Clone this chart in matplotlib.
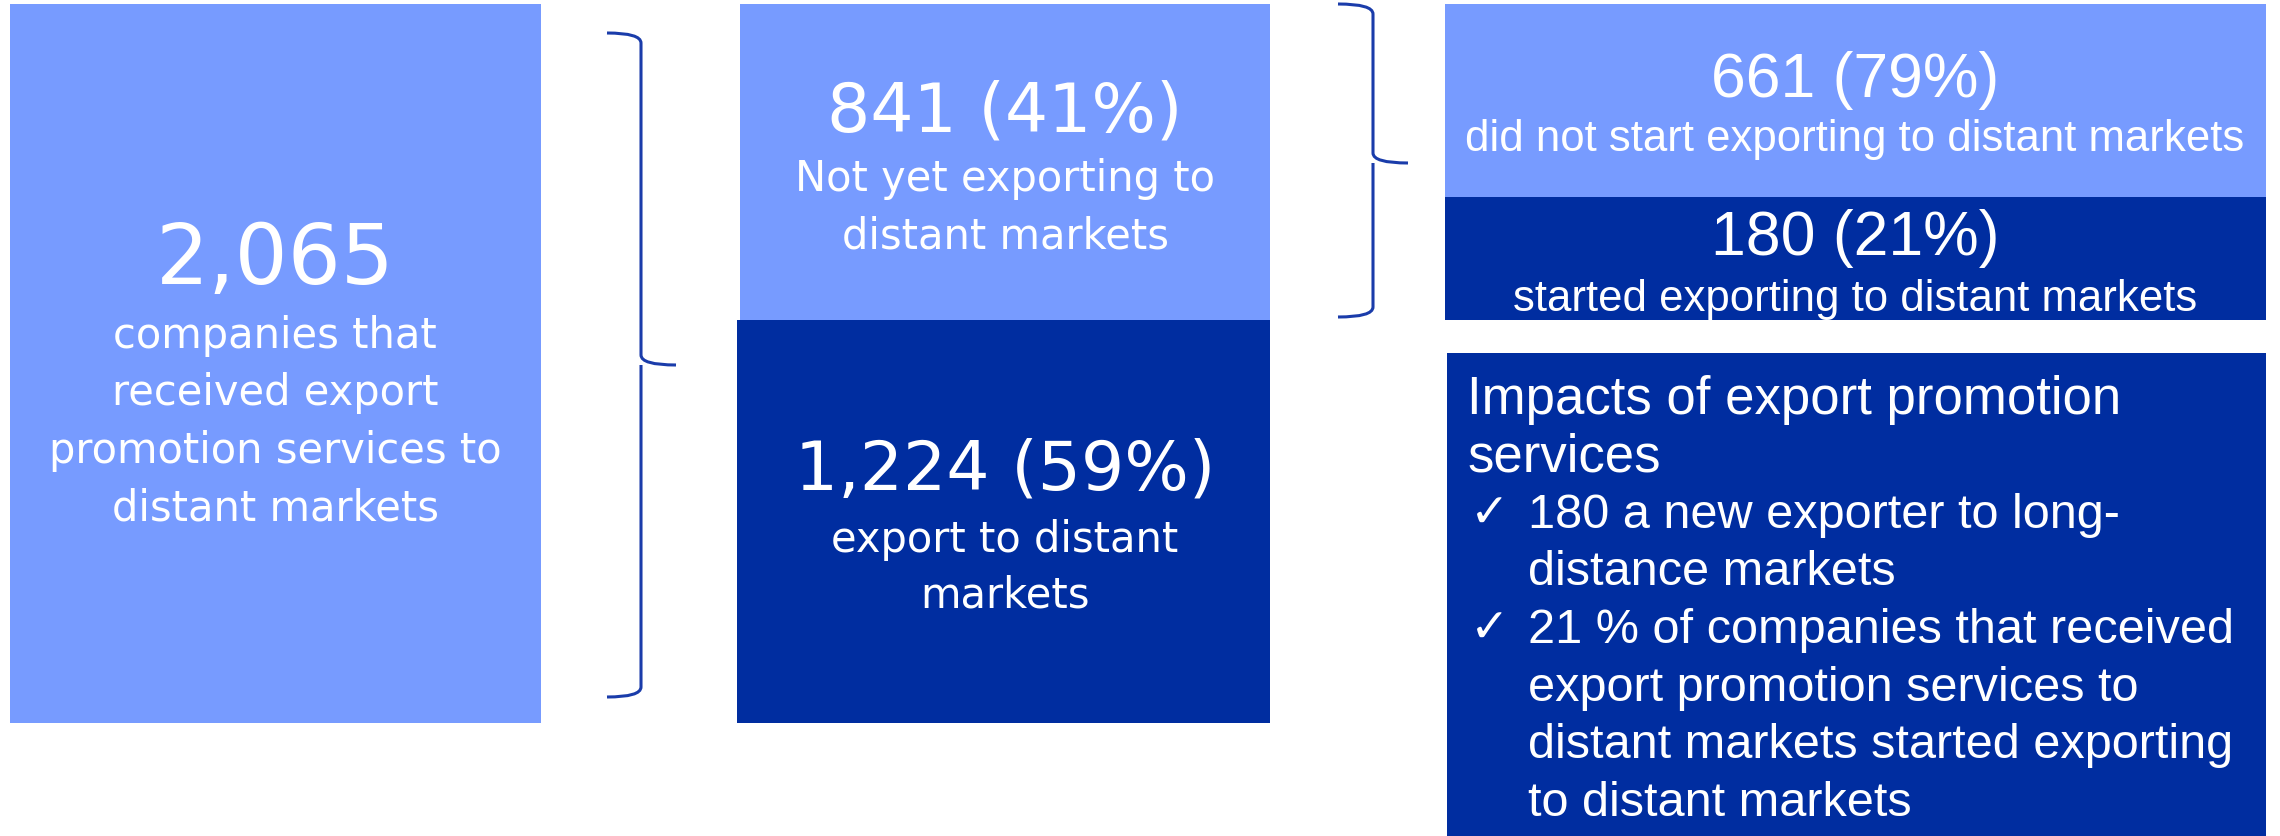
import matplotlib
matplotlib.use("Agg")
import matplotlib.pyplot as plt
from matplotlib.patches import Rectangle, PathPatch
from matplotlib.path import Path

# data
total = 2065
not_yet = 841
exporting = 1224
not_started = 661
started = 180

total_label = ["companies that", "received export", "promotion services to", "distant markets"]
not_yet_label = ["Not yet exporting to", "distant markets"]
exporting_label = ["export to distant", "markets"]
not_started_label = "did not start exporting to distant markets"
started_label = "started exporting to distant markets"
impact_title = ["Impacts of export promotion", "services"]
impact_items = [
    ["180 a new exporter to long-", "distance markets"],
    ["21 % of companies that received", "export promotion services to",
     "distant markets started exporting", "to distant markets"],
]

light = "#779BFF"
dark = "#002DA0"
brace_col = "#1A3CAA"
wide = ["DejaVu Sans"]
narrow = ["Liberation Sans", "DejaVu Sans"]


def pct(a, b):
    return "%d%%" % round(100.0 * a / b)


def brace(ax, x0, xv, xt, ytop, ytip, ybot):
    r = 10
    verts = [(x0, ytop), (xv, ytop), (xv, ytop + r),
             (xv, ytip - r), (xv, ytip), (xt, ytip),
             (xv, ytip), (xv, ytip + r),
             (xv, ybot - r), (xv, ybot), (x0, ybot)]
    codes = [Path.MOVETO, Path.CURVE3, Path.CURVE3,
             Path.LINETO, Path.CURVE3, Path.CURVE3,
             Path.MOVETO, Path.CURVE3,
             Path.LINETO, Path.CURVE3, Path.CURVE3]
    ax.add_patch(PathPatch(Path(verts, codes), fc="none", ec=brace_col, lw=2.2))


fig = plt.figure(figsize=(22.8, 8.36), dpi=100)
ax = fig.add_axes([0, 0, 1, 1])
ax.set_xlim(0, 2280)
ax.set_ylim(836, 0)
ax.axis("off")

# column 1
ax.add_patch(Rectangle((10, 4), 531, 719, color=light, lw=0))
ax.text(275, 261, "{:,}".format(total), color="white", fontsize=60,
        family=wide, ha="center", va="center")
for i, s in enumerate(total_label):
    ax.text(275, 336 + i * 57.5, s, color="white", fontsize=30,
            family=wide, ha="center", va="center")

brace(ax, 607, 641, 676, 33, 365, 697)

# column 2
ax.add_patch(Rectangle((740, 4), 530, 316, color=light, lw=0))
ax.add_patch(Rectangle((737, 320), 533, 403, color=dark, lw=0))
ax.text(1005, 112, "%d (%s)" % (not_yet, pct(not_yet, total)), color="white",
        fontsize=49, family=wide, ha="center", va="center")
for i, s in enumerate(not_yet_label):
    ax.text(1005, 179 + i * 57.5, s, color="white", fontsize=30,
            family=wide, ha="center", va="center")
ax.text(1005, 471, "{:,} ({})".format(exporting, pct(exporting, total)), color="white",
        fontsize=49, family=wide, ha="center", va="center")
for i, s in enumerate(exporting_label):
    ax.text(1005, 540 + i * 55, s, color="white", fontsize=30,
            family=wide, ha="center", va="center")

brace(ax, 1338, 1373, 1408, 4, 163, 317)

# column 3
ax.add_patch(Rectangle((1445, 4), 821, 193, color=light, lw=0))
ax.add_patch(Rectangle((1445, 197), 821, 123, color=dark, lw=0))
ax.text(1855, 80, "%d (%s)" % (not_started, pct(not_started, not_yet)), color="white",
        fontsize=45, family=narrow, ha="center", va="center")
ax.text(1855, 139, not_started_label, color="white", fontsize=31.5,
        family=narrow, ha="center", va="center")
ax.text(1855, 238, "%d (%s)" % (started, pct(started, not_yet)), color="white",
        fontsize=45, family=narrow, ha="center", va="center")
ax.text(1855, 299, started_label, color="white", fontsize=31.5,
        family=narrow, ha="center", va="center")

# impacts box
ax.add_patch(Rectangle((1447, 353), 819, 483, color=dark, lw=0))
y = 400
for s in impact_title:
    ax.text(1467, y, s, color="white", fontsize=38, family=narrow, va="center")
    y += 57.6
for item in impact_items:
    ax.text(1470, y, "\u2713", color="white", fontsize=34, family=wide, va="center")
    for s in item:
        ax.text(1528, y, s, color="white", fontsize=35, family=narrow, va="center")
        y += 57.6

fig.savefig("out.png", dpi=100)
